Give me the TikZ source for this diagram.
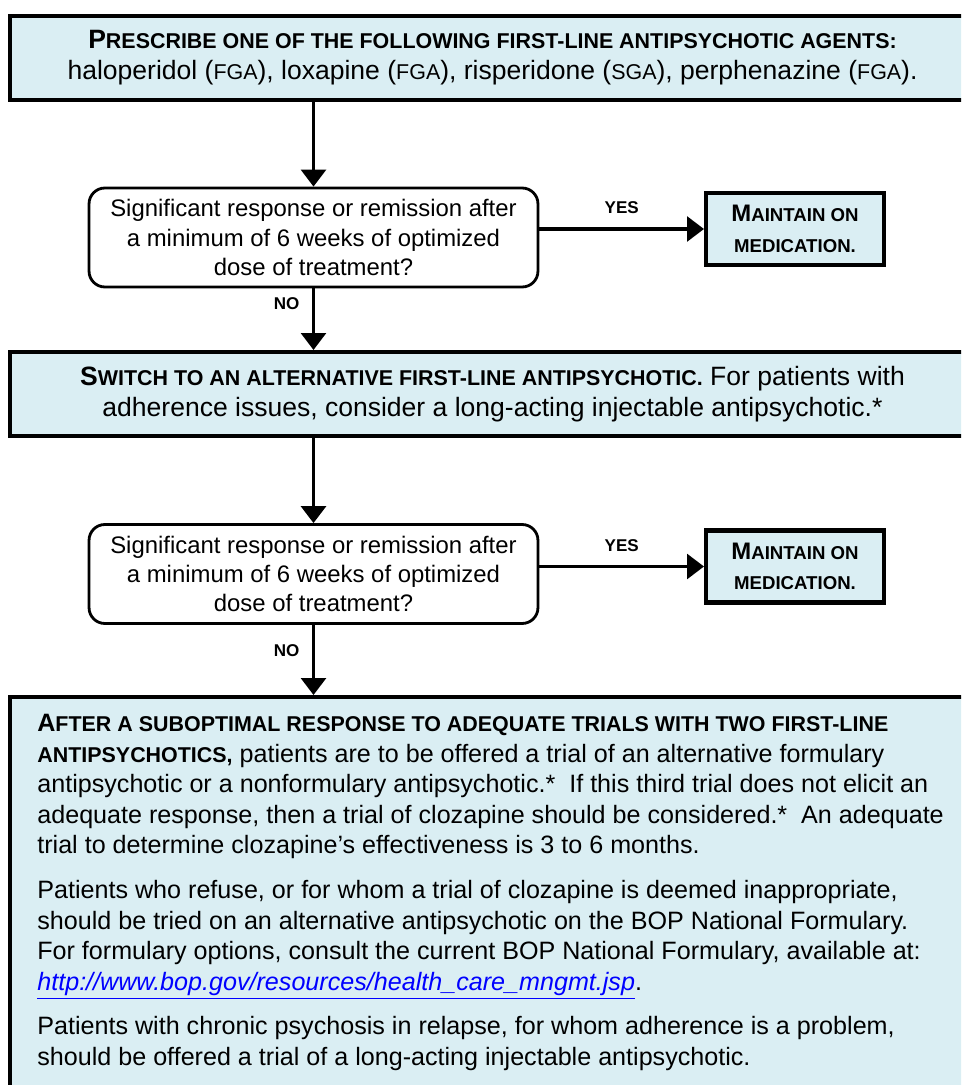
\documentclass[tikz,border=0pt]{standalone}
\usepackage{fontspec}
\setmainfont{Liberation Sans}
\usetikzlibrary{arrows.meta,positioning}
\definecolor{boxblue}{HTML}{DAEEF3}
\definecolor{linkblue}{HTML}{0000FF}
\newcommand{\capsm}[1]{{\fontsize{10.6}{12}\selectfont #1}}
\newcommand{\capmid}[1]{{\fontsize{12.2}{13}\selectfont #1}}
\newcommand{\headcap}[2]{{\bfseries #1\capsm{#2}}}
\newcommand{\leadcap}[2]{{\bfseries #1\capmid{#2}}}

\tikzset{
    every node/.style={font=\fontsize{13.6}{17.4}\selectfont},
    infobox/.style={draw, line width=2.3pt, fill=boxblue, align=center, inner sep=0pt,
                    minimum width=19.3cm, font=\fontsize{15.1}{17.6}\selectfont},
    question/.style={draw, line width=1.6pt, rounded corners=9pt, fill=white, align=center,
                     inner sep=0pt, minimum width=8.98cm, minimum height=1.98cm,
                     font=\fontsize{13.6}{16.6}\selectfont},
    keepbox/.style={draw, line width=2.3pt, fill=boxblue, align=center, inner sep=0pt,
                    minimum width=3.56cm, minimum height=1.44cm},
    answer/.style={font=\fontsize{9.7}{11}\selectfont\bfseries, inner sep=0pt},
    flow/.style={line width=2pt, -{Triangle[width=14pt,length=9.6pt]}}
}

\begin{document}
\begin{tikzpicture}[x=0.02cm, y=-0.02cm]
    \useasboundingbox (0,0) rectangle (961,1085);
    \clip (0,0) rectangle (961,1085);

    % blue boxes run off the right and bottom edge
    \node[infobox, minimum height=1.68cm] (first) at (492.5,58)
        {\leadcap{P}{RESCRIBE ONE OF THE FOLLOWING FIRST-LINE ANTIPSYCHOTIC AGENTS:}\\
         haloperidol (\capmid{FGA}), loxapine (\capmid{FGA}), risperidone (\capmid{SGA}), perphenazine (\capmid{FGA}).};

    \node[question] (q1) at (313.5,237.5)
        {Significant response or remission after\\ a minimum of 6 weeks of optimized\\ dose of treatment?};
    \node[keepbox] (keep1) at (795,229) {\headcap{M}{AINTAIN ON}\\ \headcap{}{MEDICATION.}};

    \node[infobox, minimum height=1.68cm] (second) at (492.5,394)
        {\leadcap{S}{WITCH TO AN ALTERNATIVE FIRST-LINE ANTIPSYCHOTIC.} For patients with\\
         adherence issues, consider a long-acting injectable antipsychotic.*};

    \node[question] (q2) at (313.5,574)
        {Significant response or remission after\\ a minimum of 6 weeks of optimized\\ dose of treatment?};
    \node[keepbox] (keep2) at (795,566.5) {\headcap{M}{AINTAIN ON}\\ \headcap{}{MEDICATION.}};

    \node[infobox, minimum height=8.06cm] (third) at (492.5,898.5) {};
    \node[align=left, inner sep=0pt, anchor=north west, font=\fontsize{14.3}{17.4}\selectfont]
        (thirdtext) at (37,714)
        {\leadcap{A}{FTER A SUBOPTIMAL RESPONSE TO ADEQUATE TRIALS WITH TWO FIRST-LINE}\\
         \leadcap{}{ANTIPSYCHOTICS,} patients are to be offered a trial of an alternative formulary\\
         antipsychotic or a nonformulary antipsychotic.*\ \ If this third trial does not elicit an\\
         adequate response, then a trial of clozapine should be considered.*\ \ An adequate\\
         trial to determine clozapine’s effectiveness is 3 to 6 months.\\[8pt]
         Patients who refuse, or for whom a trial of clozapine is deemed inappropriate,\\
         should be tried on an alternative antipsychotic on the BOP National Formulary.\\
         For formulary options, consult the current BOP National Formulary, available at:\\
         {\color{linkblue}\itshape\underline{http://www.bop.gov/resources/health\_care\_mngmt.jsp}}.\\[8pt]
         Patients with chronic psychosis in relapse, for whom adherence is a problem,\\
         should be offered a trial of a long-acting injectable antipsychotic.};

    \path[flow]
        (first.south -| q1.north) edge (q1.north)
        (q1.east |- keep1.west) edge node[answer, above=7.5pt] {YES} (keep1.west)
        (q1.south) edge node[answer, pos=0.25, left=7pt] {NO} (q1.south |- second.north)
        (second.south -| q2.north) edge (q2.north)
        (q2.east |- keep2.west) edge node[answer, above=7.5pt] {YES} (keep2.west)
        (q2.south) edge node[answer, pos=0.36, left=7pt] {NO} (q2.south |- third.north)
        ;
\end{tikzpicture}
\end{document}
